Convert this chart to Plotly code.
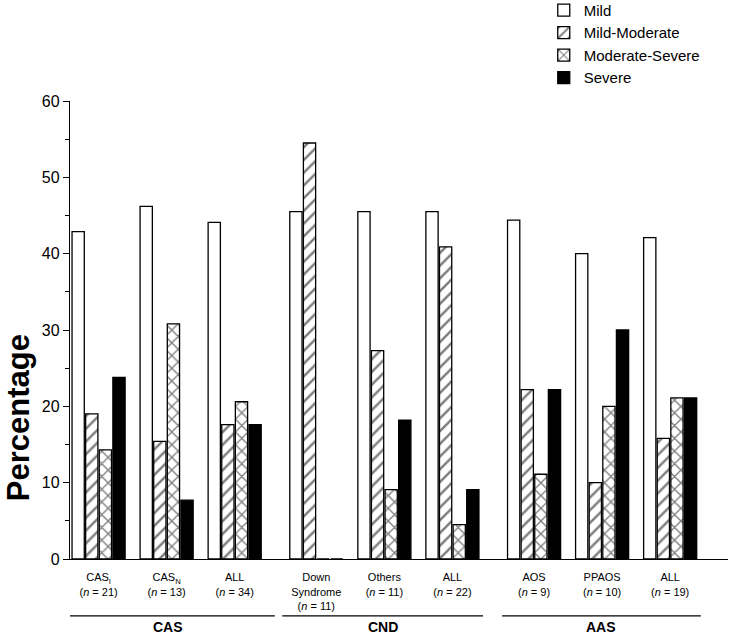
import plotly.graph_objects as go

categories = ["CAS<sub>I</sub><br>(<i>n</i> = 21)", "CAS<sub>N</sub><br>(<i>n</i> = 13)", "ALL<br>(<i>n</i> = 34)",
              "Down<br>Syndrome<br>(<i>n</i> = 11)", "Others<br>(<i>n</i> = 11)", "ALL<br>(<i>n</i> = 22)",
              "AOS<br>(<i>n</i> = 9)", "PPAOS<br>(<i>n</i> = 10)", "ALL<br>(<i>n</i> = 19)"]
positions = [0, 1, 2, 3.2, 4.2, 5.2, 6.4, 7.4, 8.4]
mild = [42.9, 46.2, 44.1, 45.5, 45.5, 45.5, 44.4, 40.0, 42.1]
mild_moderate = [19.0, 15.4, 17.6, 54.5, 27.3, 40.9, 22.2, 10.0, 15.8]
moderate_severe = [14.3, 30.8, 20.6, 0.0, 9.1, 4.5, 11.1, 20.0, 21.1]
severe = [23.8, 7.7, 17.6, 0.0, 18.2, 9.1, 22.2, 30.0, 21.1]
groups = ["CAS", "CND", "AAS"]
group_spans = [(-0.54, 2.59), (2.70, 5.65), (5.93, 8.85)]
y_ticks = [0, 10, 20, 30, 40, 50, 60]

FONT = "Liberation Sans, Arial, sans-serif"
line = dict(color="black", width=1.3)

fig = go.Figure()
fig.add_bar(x=positions, y=mild, name="Mild",
            marker=dict(color="white", line=line))
fig.add_bar(x=positions, y=mild_moderate, name="Mild-Moderate",
            marker=dict(color="white", line=line,
                        pattern=dict(shape="/", fgcolor="black", bgcolor="white", size=9, solidity=0.28)))
fig.add_bar(x=positions, y=moderate_severe, name="Moderate-Severe",
            marker=dict(color="white", line=line,
                        pattern=dict(shape="x", fgcolor="black", bgcolor="white", size=9, solidity=0.28)))
fig.add_bar(x=positions, y=severe, name="Severe",
            marker=dict(color="black", line=line))

for g, (x0, x1) in zip(groups, group_spans):
    fig.add_shape(type="line", xref="x", yref="paper", x0=x0, x1=x1, y0=-0.124, y1=-0.124,
                  line=dict(color="black", width=1.2))
    fig.add_annotation(xref="x", yref="paper", x=(x0 + x1) / 2, y=-0.148, text="<b>%s</b>" % g,
                       showarrow=False, yanchor="middle", font=dict(size=14, color="black", family=FONT))

fig.add_annotation(xref="paper", yref="paper", x=-0.077, y=0.308, text="<b>Percentage</b>",
                   textangle=-90, showarrow=False, xanchor="center", yanchor="middle", borderpad=0,
                   font=dict(size=31, color="black", family=FONT))

fig.update_layout(
    width=730, height=637,
    margin=dict(l=70, r=2, t=101, b=78, autoexpand=False),
    paper_bgcolor="white", plot_bgcolor="white",
    barmode="group", bargap=0.2, bargroupgap=0.1,
    font=dict(family=FONT, color="black"),
    showlegend=True,
    legend=dict(x=0.72, y=1.234, xanchor="left", yanchor="top",
                font=dict(size=15, family=FONT), tracegroupgap=0, itemwidth=30,
                bgcolor="rgba(0,0,0,0)"),
    xaxis=dict(range=[-0.42, 9.25], tickvals=positions, ticktext=categories,
               showline=True, linecolor="black", linewidth=1.3, ticks="", ticklabelstandoff=8,
               tickfont=dict(size=11, family=FONT), showgrid=False, zeroline=False),
    yaxis=dict(range=[0, 60], tickvals=y_ticks, showline=True, linecolor="black", linewidth=1.3,
               ticks="outside", ticklen=6, tickwidth=1.2, tickcolor="black",
               minor=dict(dtick=5, ticks="outside", ticklen=4, tickcolor="black", tickwidth=1.2),
               tickfont=dict(size=16, family=FONT), showgrid=False, zeroline=False),
)

fig.write_html("out.html", config={"displayModeBar": False},
               post_script="document.body.style.margin='0';")
